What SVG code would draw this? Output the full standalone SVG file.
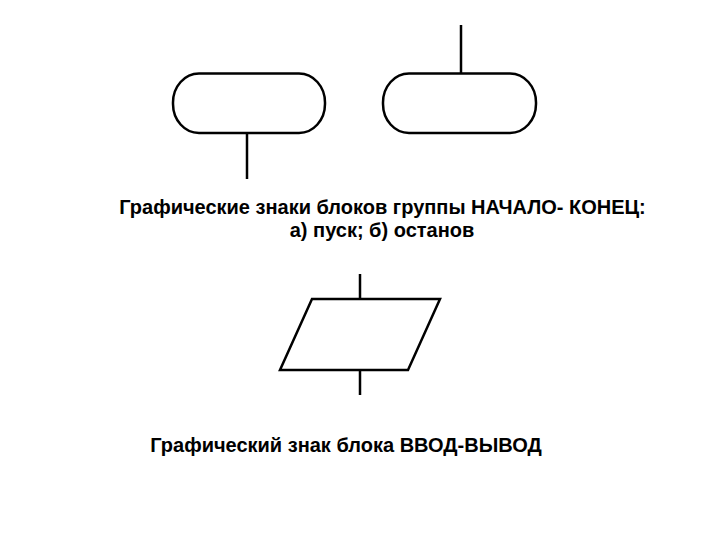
<svg xmlns="http://www.w3.org/2000/svg" width="720" height="540" viewBox="0 0 720 540">
<style>
.shape{fill:none;stroke:#000;stroke-width:2.5}
.ln{stroke:#000;stroke-width:2.5;fill:none}
.t{font-family:"Liberation Sans",Arial,sans-serif;font-weight:bold;fill:#000;text-anchor:middle;font-size:20px}
</style>
<rect width="720" height="540" fill="#fff"/>
<g id="connectors">
<line class="ln" x1="247" y1="133" x2="247" y2="179"/>
<line class="ln" x1="461" y1="25" x2="461" y2="73"/>
<line class="ln" x1="360" y1="274" x2="360" y2="299"/>
<line class="ln" x1="360" y1="370" x2="360" y2="395"/>
</g>
<g id="start">
<rect class="shape" x="173" y="73.5" width="152" height="59.5" rx="26" ry="29"/>
</g>
<g id="stop">
<rect class="shape" x="383" y="73.5" width="153" height="59.5" rx="26" ry="29"/>
</g>
<g id="io">
<polygon class="shape" points="312,299 440,299 408,370 280,370"/>
</g>
<text class="t" x="382.5" y="214">Графические знаки блоков группы НАЧАЛО- КОНЕЦ:</text>
<text class="t" x="382" y="237">а) пуск; б) останов</text>
<text class="t" x="346" y="452">Графический знак блока ВВОД-ВЫВОД</text>
</svg>
